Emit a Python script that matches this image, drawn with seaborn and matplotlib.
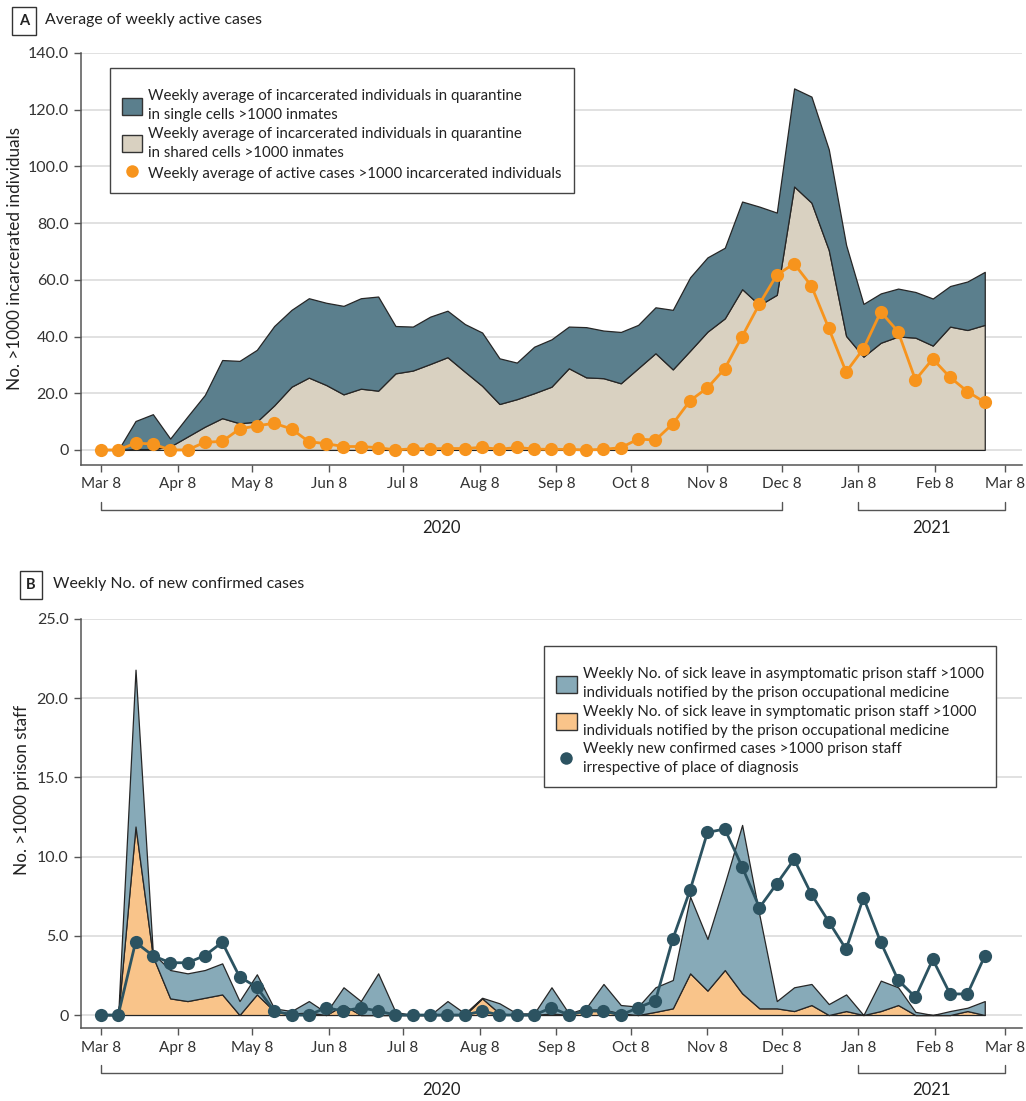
import numpy as np
import pandas as pd
import seaborn as sns
import matplotlib.pyplot as plt
import matplotlib.transforms as mtransforms
from matplotlib.patches import Patch
from matplotlib.lines import Line2D
from matplotlib.ticker import FuncFormatter

# weekly values, first week starting Mar 8 2020
week_start = "2020-03-08"
n_weeks = 52

# panel A: weekly averages per >1000 inmates
shared_cells = [0, 0, 0.3, 0.3, 1.2, 4.7, 8.2, 11.2, 9.4, 10.0,
                15.7, 22.3, 25.5, 22.9, 19.6, 21.6, 20.9, 27.0, 28.0, 30.3,
                32.7, 27.6, 22.6, 16.2, 17.9, 20.0, 22.3, 28.8, 25.6, 25.3,
                23.5, 28.8, 34.1, 28.4, 35.0, 41.7, 46.4, 56.7, 51.1, 54.7,
                92.9, 87.2, 70.5, 40.2, 32.9, 37.8, 40.0, 39.6, 36.8, 43.5,
                42.3, 44.1]
single_cells = [0, 0, 9.9, 12.3, 2.8, 7.1, 11.2, 20.5, 22.0, 25.3,
                28.0, 27.1, 28.0, 29.0, 31.2, 31.9, 33.2, 16.7, 15.5, 16.7,
                16.4, 16.8, 18.8, 16.1, 12.9, 16.4, 16.7, 14.7, 17.7, 16.8,
                18.1, 15.3, 16.2, 21.0, 25.9, 26.2, 24.9, 30.9, 34.7, 29.0,
                34.6, 37.4, 35.5, 32.1, 18.6, 17.4, 16.9, 16.1, 16.6, 14.3,
                17.1, 18.7]
active_cases = [0, 0, 2.4, 2.1, 0, 0, 2.7, 3.0, 7.4, 8.5,
                9.4, 7.4, 2.9, 2.2, 1.2, 1.2, 0.8, 0, 0.4, 0.4,
                0.5, 0.5, 0.9, 0.2, 0.9, 0.3, 0.2, 0.2, 0, 0.2,
                0.8, 3.8, 3.5, 9.2, 17.4, 21.9, 28.7, 40.0, 51.5, 61.7,
                65.7, 57.8, 42.9, 27.5, 35.7, 48.7, 41.7, 24.7, 32.1, 25.6,
                20.6, 16.8]

# panel B: weekly numbers per >1000 prison staff
symptomatic = [0, 0, 11.9, 3.7, 1.05, 0.88, 1.09, 1.3, 0, 1.3,
               0.25, 0.1, 0.15, 0, 0.63, 0, 0, 0, 0, 0,
               0, 0, 1.05, 0.1, 0, 0, 0.1, 0, 0.35, 0.35,
               0.1, 0, 0.2, 0.42, 2.63, 1.54, 2.84, 1.37, 0.42, 0.42,
               0.25, 0.63, 0, 0.25, 0, 0.25, 0.63, 0, 0, 0,
               0.25, 0]
asymptomatic = [0, 0, 9.9, 0.2, 1.79, 1.75, 1.75, 1.96, 0.88, 1.27,
                0.17, 0.15, 0.73, 0.15, 1.12, 0.88, 2.63, 0.19, 0, 0,
                0.88, 0.1, 0.04, 0.64, 0.1, 0.1, 1.65, 0.1, 0.1, 1.61,
                0.53, 0.53, 1.55, 1.79, 4.84, 3.26, 5.47, 10.63, 5.88, 0.46,
                1.5, 1.33, 0.69, 1.05, 0, 1.92, 1.12, 0.2, 0, 0.25,
                0.21, 0.88]
confirmed = [0, 0, 4.59, 3.75, 3.3, 3.3, 3.75, 4.59, 2.42, 1.75,
             0.25, 0, 0, 0.46, 0.25, 0.46, 0.25, 0, 0, 0,
             0, 0, 0.25, 0, 0, 0, 0.46, 0, 0.25, 0.25,
             0, 0.46, 0.91, 4.8, 7.89, 11.53, 11.74, 9.36, 6.78, 8.29,
             9.83, 7.62, 5.89, 4.15, 7.41, 4.59, 2.21, 1.12, 3.51, 1.33,
             1.33, 3.72]

years = ["2020", "2021"]
year_spans = [("2020-03-08", "2020-12-08"), ("2021-01-08", "2021-03-08")]

legend_a = ["Weekly average of incarcerated individuals in quarantine\nin single cells >1000 inmates",
            "Weekly average of incarcerated individuals in quarantine\nin shared cells >1000 inmates",
            "Weekly average of active cases >1000 incarcerated individuals"]
legend_b = ["Weekly No. of sick leave in asymptomatic prison staff >1000\nindividuals notified by the prison occupational medicine",
            "Weekly No. of sick leave in symptomatic prison staff >1000\nindividuals notified by the prison occupational medicine",
            "Weekly new confirmed cases >1000 prison staff\nirrespective of place of diagnosis"]

dates = pd.date_range(week_start, periods=n_weeks, freq="7D")
tick_dates = pd.date_range("2020-03-08", "2021-03-08", freq=pd.DateOffset(months=1))

sns.set_theme(style="white")
plt.rcParams["font.family"] = ["Lato", "DejaVu Sans"]
plt.rcParams["text.color"] = "#222222"

c_single = "#5b7f8d"
c_shared = "#d9d1c1"
c_active = "#f7941d"
c_asym = "#87aab8"
c_sym = "#f9c48a"
c_conf = "#2c5361"
edge = "#262626"

fig = plt.figure(figsize=(10.26, 11.01), dpi=100)
ax1 = fig.add_axes([0.079, 0.5777, 0.917, 0.3742])
ax2 = fig.add_axes([0.079, 0.0663, 0.917, 0.3715])


def style_axis(ax, ymax, ystep, ymin):
    ax.set_xlim(pd.Timestamp("2020-02-29"), pd.Timestamp("2021-03-15"))
    ax.set_ylim(ymin, ymax)
    ax.set_yticks(np.arange(0, ymax + 0.01, ystep))
    ax.yaxis.set_major_formatter(FuncFormatter(lambda v, p: "0" if v == 0 else f"{v:.1f}"))
    ax.set_xticks(tick_dates)
    ax.set_xticklabels([d.strftime("%b ") + str(d.day) for d in tick_dates])
    ax.grid(axis="y", color="#dedede", linewidth=1.3)
    ax.set_axisbelow(True)
    for s in ["top", "right"]:
        ax.spines[s].set_visible(False)
    for s in ["left", "bottom"]:
        ax.spines[s].set_color("#555555")
        ax.spines[s].set_linewidth(1.1)
    ax.tick_params(axis="both", which="major", length=5, width=1, color="#555555",
                   labelcolor="#333333", pad=4, left=True, bottom=True)
    ax.tick_params(axis="x", labelsize=11)
    ax.tick_params(axis="y", labelsize=11.5)
    # year brackets under the date axis
    trans = mtransforms.blended_transform_factory(ax.transData, ax.transAxes)
    for label, (d0, d1) in zip(years, year_spans):
        d0, d1 = pd.Timestamp(d0), pd.Timestamp(d1)
        ax.plot([d0, d0, d1, d1], [-0.09, -0.11, -0.11, -0.09], transform=trans,
                color="#555555", linewidth=1, clip_on=False)
        ax.text(d0 + (d1 - d0) / 2, -0.152, label, transform=trans, ha="center",
                va="center", fontsize=12, color="#222222")


def add_legend(ax, handles, labels, **kw):
    leg = ax.legend(handles, labels, borderaxespad=0, fontsize=10.8, frameon=True,
                    fancybox=False, edgecolor="#444444", framealpha=1,
                    handlelength=1.35, handleheight=1.35, handletextpad=0.4,
                    labelspacing=0.3, borderpad=0.8, title=" ", title_fontsize=4, **kw)
    leg.get_frame().set_linewidth(1)
    for t in leg.get_texts():
        t.set_linespacing(1.45)
    return leg


# panel A
ax1.stackplot(dates, shared_cells, single_cells, colors=[c_shared, c_single],
              edgecolor=edge, linewidth=0.9)
sns.lineplot(x=dates, y=active_cases, ax=ax1, color=c_active, linewidth=2,
             marker="o", markersize=9.5, markeredgewidth=0)
style_axis(ax1, 140, 20, -5.3)
ax1.set_ylabel("No. >1000 incarcerated individuals", fontsize=12.3, color="#222222")
ax1.yaxis.set_label_coords(-0.062, 0.5)
ax1.set_xlabel("")

handles_a = [Patch(facecolor=c_single, edgecolor="#333333", linewidth=1),
             Patch(facecolor=c_shared, edgecolor="#333333", linewidth=1),
             Line2D([0], [0], marker="o", ls="none", color=c_active, markersize=9, markeredgewidth=0)]
add_legend(ax1, handles_a, legend_a, loc="upper left", bbox_to_anchor=(0.031, 0.964))

# panel B
ax2.stackplot(dates, symptomatic, asymptomatic, colors=[c_sym, c_asym],
              edgecolor=edge, linewidth=0.9)
sns.lineplot(x=dates, y=confirmed, ax=ax2, color=c_conf, linewidth=2,
             marker="o", markersize=9.5, markeredgewidth=0)
style_axis(ax2, 25, 5, -0.82)
ax2.set_ylabel("No. >1000 prison staff", fontsize=12.3, color="#222222")
ax2.yaxis.set_label_coords(-0.054, 0.582)
ax2.set_xlabel("")

handles_b = [Patch(facecolor=c_asym, edgecolor="#333333", linewidth=1),
             Patch(facecolor=c_sym, edgecolor="#333333", linewidth=1),
             Line2D([0], [0], marker="o", ls="none", color=c_conf, markersize=9, markeredgewidth=0)]
add_legend(ax2, handles_b, legend_b, loc="upper right", bbox_to_anchor=(0.972, 0.934))

# panel headers
box = dict(boxstyle="square,pad=0.45", facecolor="white", edgecolor="#333333", linewidth=1)
fig.text(24 / 1026, 1 - 21 / 1101, "A", fontsize=10.5, fontweight="bold", ha="center", va="center", bbox=box)
fig.text(45 / 1026, 1 - 20 / 1101, "Average of weekly active cases", fontsize=11.4, ha="left", va="center")
fig.text(31 / 1026, 1 - 585 / 1101, "B", fontsize=10.5, fontweight="bold", ha="center", va="center", bbox=box)
fig.text(53 / 1026, 1 - 584 / 1101, "Weekly No. of new confirmed cases", fontsize=11.4, ha="left", va="center")

plt.savefig("out.png", dpi=100)
